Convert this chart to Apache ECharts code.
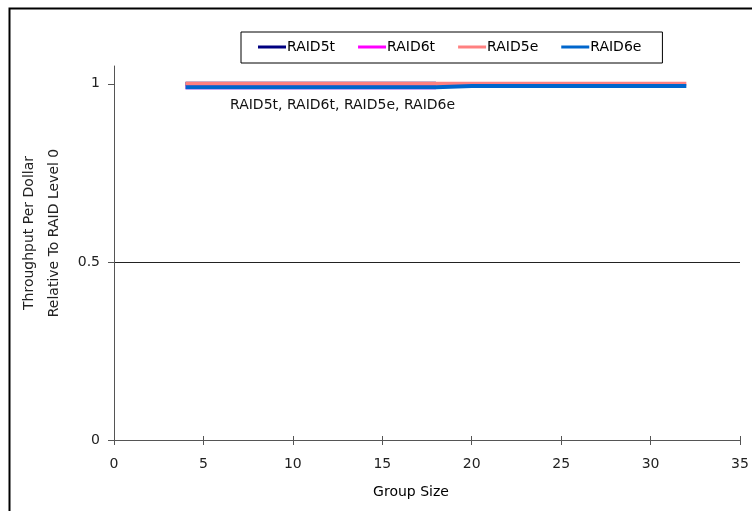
<!DOCTYPE html>
<html><head><meta charset="utf-8">
<script src="https://cdn.jsdelivr.net/npm/echarts@6/dist/echarts.min.js"></script>
<style>html,body{margin:0;padding:0;background:#fff}#c{width:752px;height:511px}</style>
</head><body><div id="c"></div>
<script>
const seriesNames = ['RAID5t', 'RAID6t', 'RAID5e', 'RAID6e'];
const colors = ['#000080', '#FF00FF', '#FF8080', '#0066CC'];
const raid5tX = [4, 6, 8, 10, 12, 14, 16, 18];
const raid5tY = [1.0, 1.0, 1.0, 1.0, 1.0, 1.0, 1.0, 1.0];
const raid6tX = [4, 6, 8, 10, 12, 14, 16, 18];
const raid6tY = [0.990, 0.990, 0.990, 0.990, 0.990, 0.990, 0.990, 0.990];
const raid5eX = [4, 8, 12, 16, 18, 20, 24, 28, 32];
const raid5eY = [1.0, 1.0, 1.0, 1.0, 1.0, 1.0, 1.0, 1.0, 1.0];
const raid6eX = [4, 8, 12, 16, 18, 18, 20, 24, 28, 32];
const raid6eY = [0.990, 0.990, 0.990, 0.990, 0.990, 0.994, 0.994, 0.994, 0.994, 0.994];
const xTicks = [0, 5, 10, 15, 20, 25, 30, 35];
const yTicks = [0, 0.5, 1];
const annotation = 'RAID5t, RAID6t, RAID5e, RAID6e';

const zip = (xs, ys) => xs.map((x, i) => [x, ys[i]]);
const dataSets = [zip(raid5tX, raid5tY), zip(raid6tX, raid6tY), zip(raid5eX, raid5eY), zip(raid6eX, raid6eY)];
const font = 'DejaVu Sans';

const chart = echarts.init(document.getElementById('c'), null, {renderer: 'canvas'});
chart.setOption({
  animation: false,
  backgroundColor: '#fff',
  textStyle: {fontFamily: font},
  grid: {left: 114, right: 12, top: 66, bottom: 71},
  legend: {
    data: seriesNames,
    top: 32, left: 241, width: 430,
    padding: [8, 21, 9, 17],
    borderColor: '#000', borderWidth: 1, backgroundColor: '#fff',
    itemWidth: 28, itemHeight: 3, itemGap: 23, icon: 'rect',
    textStyle: {fontSize: 14, color: '#000', fontFamily: font, padding: [0, 0, 0, -4]}
  },
  xAxis: [{
    type: 'value', min: 0, max: 35, interval: 5,
    name: 'Group Size', nameLocation: 'middle', nameGap: 45,
    nameTextStyle: {fontSize: 14, color: '#000', fontFamily: font, padding: [0, 32, 0, 0]},
    axisLine: {show: true, onZero: false, lineStyle: {color: '#555', width: 1}},
    axisTick: {show: true, inside: false, length: 5, lineStyle: {color: '#555'}},
    axisLabel: {fontSize: 14, color: '#222', margin: 17, fontFamily: font},
    splitLine: {show: false}
  }, {
    type: 'value', min: 0, max: 35, interval: 5, position: 'bottom',
    axisLine: {show: false},
    axisTick: {show: true, inside: true, length: 4, lineStyle: {color: '#555'}},
    axisLabel: {show: false}, splitLine: {show: false}
  }],
  yAxis: {
    type: 'value', min: 0, max: 1.05, interval: 0.5,
    name: 'Throughput Per Dollar\nRelative To RAID Level 0',
    nameLocation: 'middle', nameGap: 40, nameRotate: 90,
    nameTextStyle: {fontSize: 14, color: '#222', fontFamily: font, lineHeight: 25, padding: [0, 0, 0, 40]},
    axisLine: {show: true, onZero: false, lineStyle: {color: '#555', width: 1}},
    axisTick: {show: true, length: 6, customValues: yTicks, lineStyle: {color: '#555'}},
    axisLabel: {fontSize: 14, color: '#222', margin: 14, customValues: yTicks, fontFamily: font,
      formatter: v => String(v)},
    splitLine: {show: true, showMinLine: false, showMaxLine: false, lineStyle: {color: '#222', width: 1}}
  },
  series: seriesNames.map((n, i) => ({
    name: n, type: 'line', data: dataSets[i], showSymbol: false, symbol: 'none',
    lineStyle: {color: colors[i], width: 4, cap: 'butt'}, itemStyle: {color: colors[i]},
    z: 3 + i
  })),
  graphic: [
    {type: 'rect', left: 7, top: 6, shape: {width: 760, height: 520}, style: {fill: 'none', stroke: '#000', lineWidth: 2}, silent: true},
    {type: 'text', left: 230, top: 98, style: {text: annotation, font: '14px "DejaVu Sans"', fill: '#111'}}
  ]
});
</script></body></html>
